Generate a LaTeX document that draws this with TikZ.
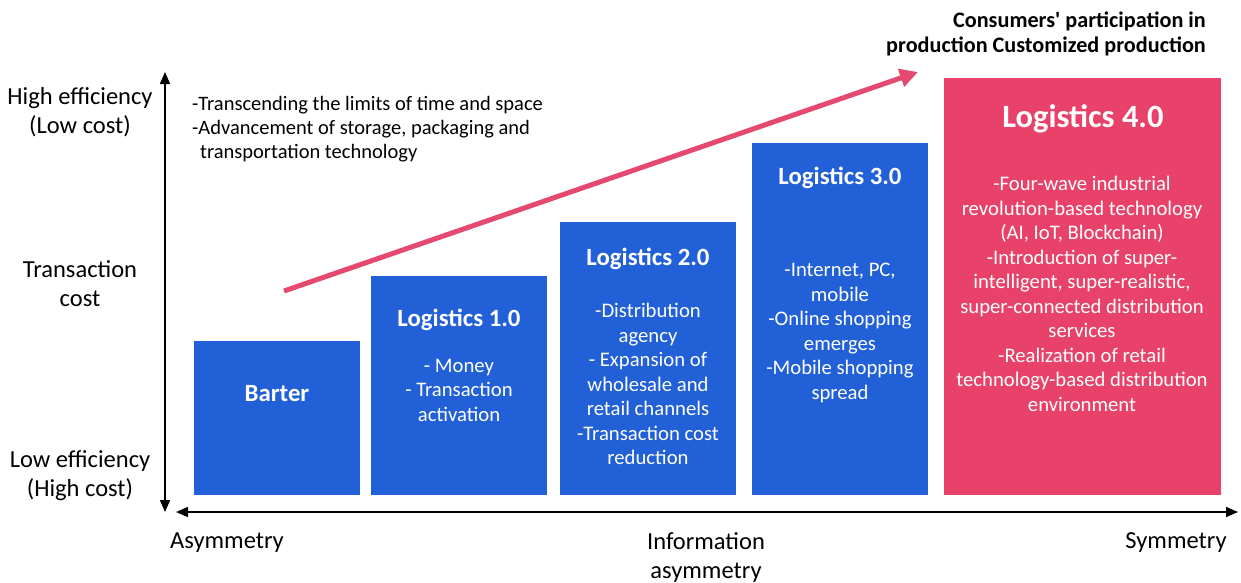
\documentclass[tikz,border=0pt]{standalone}
\usepackage{fontspec}
\setmainfont{Carlito}
\usetikzlibrary{arrows.meta}
\definecolor{stageblue}{HTML}{2160D6}
\definecolor{stagepink}{HTML}{E9426A}
\definecolor{trendpink}{HTML}{E5496F}

\tikzset{
  stagebox/.style={fill=stageblue, draw=none, inner sep=0, anchor=south west},
  stagetitle/.style={inner sep=0, text=white, font=\fontsize{24.8}{29}\selectfont\bfseries},
  stagebody/.style={inner sep=0, align=center, text=white, font=\fontsize{20.7}{24.5}\selectfont},
  axislabel/.style={inner sep=0, align=center, font=\fontsize{24.5}{29}\selectfont},
  axisline/.style={line width=1.5pt, {Triangle[length=12pt,width=10pt]}-{Triangle[length=12pt,width=10pt]}},
}

\begin{document}
\begin{tikzpicture}[x=1pt, y=-1pt]
\useasboundingbox (0,0) rectangle (1241,582);

% stage boxes
\node[stagebox, minimum width=166, minimum height=154] (barter) at (194,495) {};
\node[stagebox, minimum width=176, minimum height=219] (log1) at (371,495) {};
\node[stagebox, minimum width=176, minimum height=273] (log2) at (560,495) {};
\node[stagebox, minimum width=176, minimum height=352] (log3) at (752,495) {};
\node[stagebox, fill=stagepink, minimum width=277, minimum height=417] (log4) at (944,495) {};

% titles
\node[stagetitle] (tbarter) at (277,394) {Barter};
\node[stagetitle] (tlog1) at (459,320) {Logistics 1.0};
\node[stagetitle] (tlog2) at (648,259) {Logistics 2.0};
\node[stagetitle] (tlog3) at (840,178) {Logistics 3.0};
\node[stagetitle, font=\fontsize{32.5}{38}\selectfont\bfseries] (tlog4) at (1083,119) {Logistics 4.0};

% stage descriptions
\node[stagebody] (blog1) at (459,390) {- Money\\- Transaction\\activation};
\node[stagebody] (blog2) at (648,384) {-Distribution\\agency\\- Expansion of\\wholesale and\\retail channels\\-Transaction cost\\reduction};
\node[stagebody] (blog3) at (840,333) {-Internet, PC,\\mobile\\-Online shopping\\emerges\\-Mobile shopping\\spread};
\node[stagebody] (blog4) at (1082,294) {-Four-wave industrial\\revolution-based technology\\(AI, IoT, Blockchain)\\-Introduction of super-\\intelligent, super-realistic,\\super-connected distribution\\services\\-Realization of retail\\technology-based distribution\\environment};

% axes
\coordinate (ytop) at (165,72);
\coordinate (ybot) at (165,512);
\coordinate (xleft) at (176,512);
\coordinate (xright) at (1238,512);
\draw[axisline] (ybot) -- (ytop);
\draw[axisline] (xleft) -- (xright);

% axis labels
\node[axislabel] (high) at (80,112) {High efficiency\\(Low cost)};
\node[axislabel] (trans) at (80,284) {Transaction\\cost};
\node[axislabel] (low) at (80,476) {Low efficiency\\(High cost)};
\node[axislabel] (asym) at (227,543) {Asymmetry};
\node[axislabel] (info) at (706,557) {Information\\asymmetry};
\node[axislabel] (sym) at (1176,543) {Symmetry};

% notes
\node[inner sep=0, anchor=west, align=left, font=\fontsize{20.5}{24}\selectfont] (note) at (192,129)
  {-Transcending the limits of time and space\\-Advancement of storage, packaging and\\\hspace*{8pt}transportation technology};
\node[inner sep=0, anchor=east, align=right, font=\fontsize{22.2}{25}\selectfont\bfseries] (consumer) at (1206,34)
  {Consumers\textquotesingle\ participation in\\production Customized production};

% trend arrow
\coordinate (tstart) at (284,291);
\coordinate (tend) at (918,72);
\draw[trendpink, line width=5pt, -{Triangle[length=18pt,width=18pt]}] (tstart) -- (tend);
\end{tikzpicture}
\end{document}
